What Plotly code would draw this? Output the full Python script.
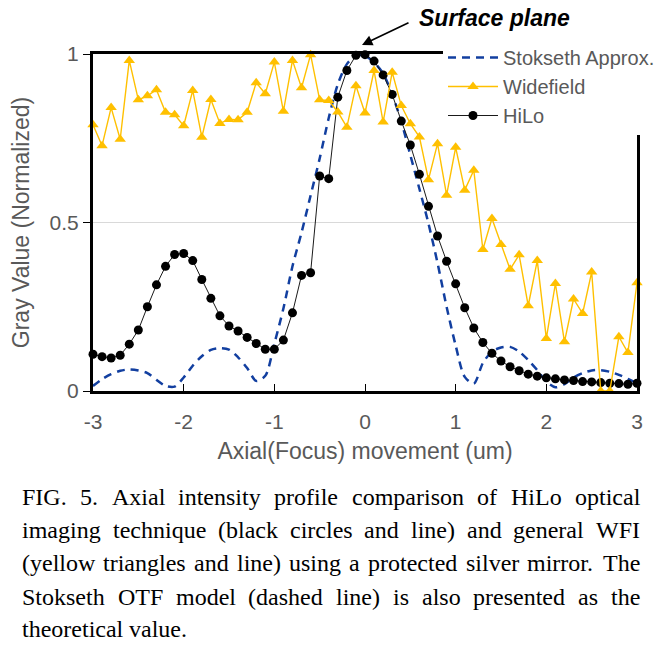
import plotly.graph_objects as go

# ---------------- data ----------------
axial_um = [-3.0, -2.9, -2.8, -2.7, -2.6, -2.5, -2.4, -2.3, -2.2, -2.1,
            -2.0, -1.9, -1.8, -1.7, -1.6, -1.5, -1.4, -1.3, -1.2, -1.1,
            -1.0, -0.9, -0.8, -0.7, -0.6, -0.5, -0.4, -0.3, -0.2, -0.1,
            0.0, 0.1, 0.2, 0.3, 0.4, 0.5, 0.6, 0.7, 0.8, 0.9,
            1.0, 1.1, 1.2, 1.3, 1.4, 1.5, 1.6, 1.7, 1.8, 1.9,
            2.0, 2.1, 2.2, 2.3, 2.4, 2.5, 2.6, 2.7, 2.8, 2.9, 3.0]

stokseth = [0.015, 0.035, 0.050, 0.060, 0.064, 0.061, 0.053, 0.033, 0.015, 0.013,
            0.040, 0.075, 0.103, 0.122, 0.127, 0.123, 0.100, 0.068, 0.030, 0.045,
            0.140, 0.245, 0.370, 0.470, 0.580, 0.690, 0.810, 0.910, 0.970, 0.995,
            0.995, 0.975, 0.942, 0.880, 0.800, 0.700, 0.600, 0.497, 0.380, 0.250,
            0.135, 0.042, 0.022, 0.083, 0.117, 0.129, 0.131, 0.117, 0.092, 0.062,
            0.028, 0.011, 0.020, 0.040, 0.053, 0.061, 0.062, 0.057, 0.048, 0.036, 0.023]

widefield = [0.790, 0.728, 0.841, 0.747, 0.981, 0.864, 0.876, 0.894, 0.827, 0.820,
             0.787, 0.892, 0.753, 0.865, 0.794, 0.806, 0.805, 0.827, 0.915, 0.882,
             0.976, 0.830, 0.981, 0.900, 0.998, 0.864, 0.862, 0.828, 0.783, 0.906,
             0.825, 0.951, 0.798, 0.946, 0.847, 0.793, 0.754, 0.627, 0.734, 0.581,
             0.723, 0.596, 0.655, 0.420, 0.512, 0.435, 0.361, 0.404, 0.253, 0.387,
             0.156, 0.319, 0.146, 0.273, 0.230, 0.353, 0.000, 0.000, 0.161, 0.114, 0.321]

hilo = [0.109, 0.102, 0.098, 0.106, 0.139, 0.181, 0.250, 0.315, 0.370, 0.405,
        0.408, 0.387, 0.331, 0.275, 0.223, 0.193, 0.178, 0.159, 0.141, 0.124,
        0.124, 0.151, 0.232, 0.343, 0.351, 0.638, 0.630, 0.872, 0.951, 0.996,
        0.998, 0.979, 0.938, 0.880, 0.801, 0.730, 0.643, 0.548, 0.460, 0.385,
        0.318, 0.247, 0.187, 0.144, 0.112, 0.089, 0.072, 0.060, 0.050, 0.044,
        0.039, 0.036, 0.033, 0.031, 0.028, 0.027, 0.025, 0.023, 0.022, 0.020, 0.023]

x_tick_vals = [-3, -2, -1, 0, 1, 2, 3]
x_tick_text = ["-3", "-2", "-1", "0", "1", "2", "3"]
y_tick_vals = [0, 0.5, 1]
y_tick_text = ["0", "0.5", "1"]

caption_lines = [
    "FIG. 5. Axial intensity profile comparison of HiLo optical",
    "imaging technique (black circles and line) and general WFI",
    "(yellow triangles and line) using a protected silver mirror. The",
    "Stokseth OTF model (dashed line) is also presented as the",
    "theoretical value.",
]

# ---------------- layout constants ----------------
W, H = 663, 647
ML, MR, MT, MB = 93, 26, 54, 256
PW = W - ML - MR
PH = H - MT - MB
GRAY = "#595959"
SANS = "Liberation Sans, Arial, sans-serif"
SERIF = "Liberation Serif, Times New Roman, serif"


def px_x(px):
    return (px - ML) / PW


def px_y(py):
    return (H - MB - py) / PH


fig = go.Figure()

fig.add_trace(go.Scatter(
    x=axial_um, y=stokseth, name="Stokseth Approx.", mode="lines",
    line=dict(color="#123FA0", width=2.5, dash="8px,6px", shape="spline", smoothing=0.8),
    legendrank=1, cliponaxis=False,
))
fig.add_trace(go.Scatter(
    x=axial_um, y=hilo, name="HiLo", mode="lines+markers",
    line=dict(color="#1a1a1a", width=1),
    marker=dict(symbol="circle", size=9, color="black"),
    legendrank=3, cliponaxis=False,
))
fig.add_trace(go.Scatter(
    x=axial_um, y=widefield, name="Widefield", mode="lines+markers",
    line=dict(color="#FFC000", width=1.4),
    marker=dict(symbol="triangle-up", size=10, color="#FFC000"),
    legendrank=2, cliponaxis=False,
))

annotations = []
# Surface plane label + arrow
annotations.append(dict(
    text="<b><i>Surface plane</i></b>", xref="paper", yref="paper",
    x=px_x(494), y=px_y(18), xanchor="center", yanchor="middle",
    showarrow=False, font=dict(family=SANS, size=23, color="black"),
))
annotations.append(dict(
    text="", xref="paper", yref="paper", x=px_x(362), y=px_y(45),
    axref="pixel", ayref="pixel", ax=48, ay=-23,
    showarrow=True, arrowhead=2, arrowsize=1.3, arrowwidth=1.6,
    arrowcolor="black", standoff=0,
))

# Caption with justified lines (Times metrics)
TW = {' ': 250, '(': 333, ')': 333, '.': 250, ',': 250, '-': 333,
      '0': 500, '1': 500, '2': 500, '3': 500, '4': 500, '5': 500, '6': 500,
      '7': 500, '8': 500, '9': 500,
      'A': 722, 'B': 667, 'C': 667, 'D': 722, 'E': 611, 'F': 556, 'G': 722,
      'H': 722, 'I': 333, 'J': 389, 'K': 722, 'L': 611, 'M': 889, 'N': 722,
      'O': 722, 'P': 556, 'Q': 722, 'R': 667, 'S': 556, 'T': 611, 'U': 722,
      'V': 722, 'W': 944, 'X': 722, 'Y': 722, 'Z': 611,
      'a': 444, 'b': 500, 'c': 444, 'd': 500, 'e': 444, 'f': 333, 'g': 500,
      'h': 500, 'i': 278, 'j': 278, 'k': 500, 'l': 278, 'm': 778, 'n': 500,
      'o': 500, 'p': 500, 'q': 500, 'r': 333, 's': 389, 't': 278, 'u': 500,
      'v': 500, 'w': 722, 'x': 500, 'y': 500, 'z': 444}
CAP_FS = 24
CAP_LEFT, CAP_RIGHT = 20, 638
cap_y = [497, 530, 563, 597, 629]


def wwidth(w):
    return sum(TW.get(c, 500) for c in w) * CAP_FS / 1000.0


for i, line in enumerate(caption_lines):
    words = line.split(" ")
    last = i == len(caption_lines) - 1
    widths = [wwidth(w) for w in words]
    if last or len(words) == 1:
        gap = TW[' '] * CAP_FS / 1000.0
    else:
        gap = (CAP_RIGHT - CAP_LEFT - sum(widths)) / (len(words) - 1)
    xcur = CAP_LEFT
    for w, ww in zip(words, widths):
        annotations.append(dict(
            text=w, xref="paper", yref="paper", x=px_x(xcur), y=px_y(cap_y[i]),
            xanchor="left", yanchor="middle", showarrow=False,
            font=dict(family=SERIF, size=CAP_FS, color="black"),
        ))
        xcur += ww + gap

fig.update_layout(
    width=W, height=H,
    margin=dict(l=ML, r=MR, t=MT, b=MB, pad=0, autoexpand=False),
    paper_bgcolor="white", plot_bgcolor="white",
    showlegend=True,
    legend=dict(
        x=px_x(443), y=px_y(38), xanchor="left", yanchor="top",
        bgcolor="white", borderwidth=0,
        font=dict(family=SANS, size=20, color=GRAY),
        itemwidth=50, traceorder="normal",
    ),
    annotations=annotations,
    xaxis=dict(
        range=[-3, 3], tickvals=x_tick_vals, ticktext=x_tick_text,
        showgrid=False, zeroline=False,
        showline=True, linecolor="black", linewidth=3, mirror=True,
        ticks="inside", ticklen=7, tickcolor="black", tickwidth=1,
        tickfont=dict(family=SANS, size=21, color=GRAY),
        ticklabelstandoff=10,
        title=dict(text="Axial(Focus) movement (um)", standoff=11,
                   font=dict(family=SANS, size=23, color=GRAY)),
        automargin=False,
    ),
    yaxis=dict(
        range=[0, 1], tickvals=y_tick_vals, ticktext=y_tick_text,
        showgrid=True, gridcolor="#d9d9d9", gridwidth=1, zeroline=False,
        showline=True, linecolor="black", linewidth=3, mirror=True,
        ticks="outside", ticklen=7, tickcolor="black", tickwidth=1,
        tickfont=dict(family=SANS, size=21, color=GRAY),
        title=dict(text="Gray Value (Normalized)", standoff=14,
                   font=dict(family=SANS, size=23, color=GRAY)),
        automargin=False,
    ),
)

fig.write_html(
    "out.html",
    post_script=(
        "document.body.style.margin='0';"
        "document.body.style.overflow='hidden';"
        "var s=document.createElement('style');"
        "s.innerHTML='.modebar-container{display:none !important;}';"
        "document.head.appendChild(s);"
    ),
)
